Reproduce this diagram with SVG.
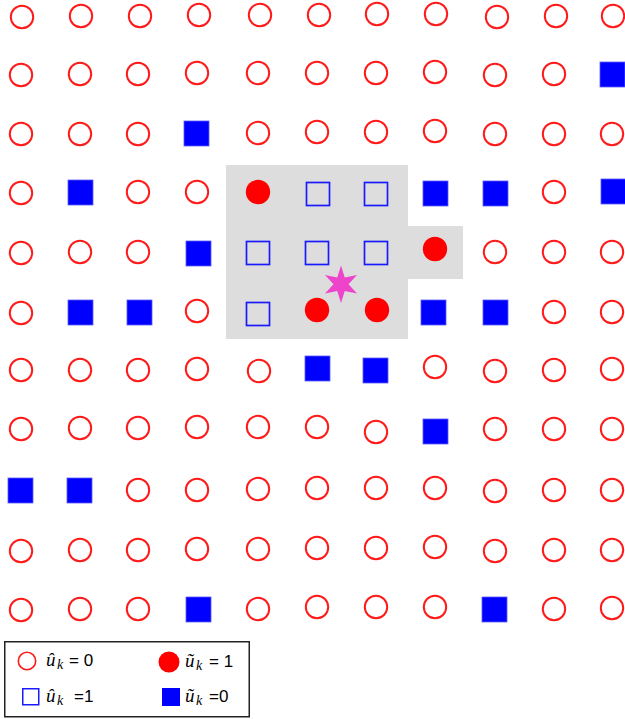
<svg xmlns="http://www.w3.org/2000/svg" width="625" height="719" viewBox="0 0 625 719">
<style>
.oc{fill:none;stroke:#ff1a1a;stroke-width:2}
.fc{fill:#ff0000;stroke:none}
.os{fill:none;stroke:#1a1aff;stroke-width:1.7}
.fs{fill:#0000ff;stroke:#5a5aff;stroke-width:0.8}
.lt{font-family:"Liberation Sans",Arial,sans-serif;font-size:17px;fill:#000}
.lu{font-family:"Liberation Serif","DejaVu Serif",serif;font-style:italic;font-size:19px}
.lk{font-family:"Liberation Serif","DejaVu Serif",serif;font-style:italic;font-size:14px}
</style>
<rect width="625" height="719" fill="#fff"/>
<path id="region" d="M226,165 H408 V226 H463 V279 H408 V339 H226 Z" fill="#dddddd"/>
<g id="nodes">
<!-- row 0 -->
<g id="n0-0"><circle class="oc" cx="22" cy="17" r="11.2"/></g>
<g id="n0-1"><circle class="oc" cx="81" cy="16" r="11.2"/></g>
<g id="n0-2"><circle class="oc" cx="140" cy="16" r="11.2"/></g>
<g id="n0-3"><circle class="oc" cx="199" cy="15" r="11.2"/></g>
<g id="n0-4"><circle class="oc" cx="260" cy="15" r="11.2"/></g>
<g id="n0-5"><circle class="oc" cx="319" cy="15" r="11.2"/></g>
<g id="n0-6"><circle class="oc" cx="377" cy="14" r="11.2"/></g>
<g id="n0-7"><circle class="oc" cx="436" cy="14" r="11.2"/></g>
<g id="n0-8"><circle class="oc" cx="497" cy="17" r="11.2"/></g>
<g id="n0-9"><circle class="oc" cx="556" cy="16" r="11.2"/></g>
<g id="n0-10"><circle class="oc" cx="613" cy="16" r="11.2"/></g>
<!-- row 1 -->
<g id="n1-0"><circle class="oc" cx="21" cy="75" r="11.2"/></g>
<g id="n1-1"><circle class="oc" cx="80" cy="74" r="11.2"/></g>
<g id="n1-2"><circle class="oc" cx="138" cy="74" r="11.2"/></g>
<g id="n1-3"><circle class="oc" cx="197" cy="73" r="11.2"/></g>
<g id="n1-4"><circle class="oc" cx="258" cy="73" r="11.2"/></g>
<g id="n1-5"><circle class="oc" cx="317" cy="73" r="11.2"/></g>
<g id="n1-6"><circle class="oc" cx="376" cy="73" r="11.2"/></g>
<g id="n1-7"><circle class="oc" cx="435" cy="72" r="11.2"/></g>
<g id="n1-8"><circle class="oc" cx="495" cy="75" r="11.2"/></g>
<g id="n1-9"><circle class="oc" cx="554" cy="74" r="11.2"/></g>
<g id="n1-10"><rect class="fs" x="600" y="62" width="25" height="25"/></g>
<!-- row 2 -->
<g id="n2-0"><circle class="oc" cx="21" cy="134" r="11.2"/></g>
<g id="n2-1"><circle class="oc" cx="80" cy="134" r="11.2"/></g>
<g id="n2-2"><circle class="oc" cx="138" cy="134" r="11.2"/></g>
<g id="n2-3"><rect class="fs" x="184" y="121" width="25" height="25"/></g>
<g id="n2-4"><circle class="oc" cx="258" cy="133" r="11.2"/></g>
<g id="n2-5"><circle class="oc" cx="317" cy="132" r="11.2"/></g>
<g id="n2-6"><circle class="oc" cx="376" cy="132" r="11.2"/></g>
<g id="n2-7"><circle class="oc" cx="435" cy="131" r="11.2"/></g>
<g id="n2-8"><circle class="oc" cx="495" cy="134" r="11.2"/></g>
<g id="n2-9"><circle class="oc" cx="554" cy="134" r="11.2"/></g>
<g id="n2-10"><circle class="oc" cx="612" cy="134" r="11.2"/></g>
<!-- row 3 -->
<g id="n3-0"><circle class="oc" cx="21" cy="193" r="11.2"/></g>
<g id="n3-1"><rect class="fs" x="68" y="180" width="25" height="25"/></g>
<g id="n3-2"><circle class="oc" cx="138" cy="192" r="11.2"/></g>
<g id="n3-3"><circle class="oc" cx="197" cy="192" r="11.2"/></g>
<g id="n3-4"><circle class="fc" cx="258" cy="192" r="12.2"/></g>
<g id="n3-5"><rect class="os" x="306.5" y="182.5" width="23" height="23"/></g>
<g id="n3-6"><rect class="os" x="364.5" y="182.5" width="23" height="23"/></g>
<g id="n3-7"><rect class="fs" x="423" y="181" width="25" height="25"/></g>
<g id="n3-8"><rect class="fs" x="483" y="181" width="25" height="25"/></g>
<g id="n3-9"><circle class="oc" cx="554" cy="192" r="11.2"/></g>
<g id="n3-10"><rect class="fs" x="601" y="179" width="25" height="25"/></g>
<!-- row 4 -->
<g id="n4-0"><circle class="oc" cx="21" cy="253" r="11.2"/></g>
<g id="n4-1"><circle class="oc" cx="80" cy="252" r="11.2"/></g>
<g id="n4-2"><circle class="oc" cx="138" cy="252" r="11.2"/></g>
<g id="n4-3"><rect class="fs" x="186" y="241" width="25" height="25"/></g>
<g id="n4-4"><rect class="os" x="246.5" y="241.5" width="23" height="23"/></g>
<g id="n4-5"><rect class="os" x="305.5" y="241.5" width="23" height="23"/></g>
<g id="n4-6"><rect class="os" x="364.5" y="241.5" width="23" height="23"/></g>
<g id="n4-7"><circle class="fc" cx="435" cy="249" r="12.2"/></g>
<g id="n4-8"><circle class="oc" cx="495" cy="252" r="11.2"/></g>
<g id="n4-9"><circle class="oc" cx="554" cy="252" r="11.2"/></g>
<g id="n4-10"><circle class="oc" cx="612" cy="252" r="11.2"/></g>
<!-- row 5 -->
<g id="n5-0"><circle class="oc" cx="21" cy="313" r="11.2"/></g>
<g id="n5-1"><rect class="fs" x="68" y="300" width="25" height="25"/></g>
<g id="n5-2"><rect class="fs" x="127" y="300" width="25" height="25"/></g>
<g id="n5-3"><circle class="oc" cx="197" cy="311" r="11.2"/></g>
<g id="n5-4"><rect class="os" x="246.5" y="302.5" width="23" height="23"/></g>
<g id="n5-5"><circle class="fc" cx="317" cy="310" r="12.2"/></g>
<g id="n5-6"><circle class="fc" cx="377" cy="310" r="12.2"/></g>
<g id="n5-7"><rect class="fs" x="421" y="300" width="25" height="25"/></g>
<g id="n5-8"><rect class="fs" x="483" y="300" width="25" height="25"/></g>
<g id="n5-9"><circle class="oc" cx="554" cy="312" r="11.2"/></g>
<g id="n5-10"><circle class="oc" cx="612" cy="312" r="11.2"/></g>
<!-- row 6 -->
<g id="n6-0"><circle class="oc" cx="21" cy="370" r="11.2"/></g>
<g id="n6-1"><circle class="oc" cx="80" cy="370" r="11.2"/></g>
<g id="n6-2"><circle class="oc" cx="138" cy="370" r="11.2"/></g>
<g id="n6-3"><circle class="oc" cx="197" cy="369" r="11.2"/></g>
<g id="n6-4"><circle class="oc" cx="259" cy="371" r="11.2"/></g>
<g id="n6-5"><rect class="fs" x="305" y="356" width="25" height="25"/></g>
<g id="n6-6"><rect class="fs" x="363" y="358" width="25" height="25"/></g>
<g id="n6-7"><circle class="oc" cx="435" cy="367" r="11.2"/></g>
<g id="n6-8"><circle class="oc" cx="495" cy="371" r="11.2"/></g>
<g id="n6-9"><circle class="oc" cx="554" cy="370" r="11.2"/></g>
<g id="n6-10"><circle class="oc" cx="612" cy="369" r="11.2"/></g>
<!-- row 7 -->
<g id="n7-0"><circle class="oc" cx="21" cy="429" r="11.2"/></g>
<g id="n7-1"><circle class="oc" cx="80" cy="428" r="11.2"/></g>
<g id="n7-2"><circle class="oc" cx="138" cy="428" r="11.2"/></g>
<g id="n7-3"><circle class="oc" cx="197" cy="427" r="11.2"/></g>
<g id="n7-4"><circle class="oc" cx="258" cy="427" r="11.2"/></g>
<g id="n7-5"><circle class="oc" cx="317" cy="427" r="11.2"/></g>
<g id="n7-6"><circle class="oc" cx="376" cy="432" r="11.2"/></g>
<g id="n7-7"><rect class="fs" x="423" y="419" width="25" height="25"/></g>
<g id="n7-8"><circle class="oc" cx="495" cy="429" r="11.2"/></g>
<g id="n7-9"><circle class="oc" cx="554" cy="429" r="11.2"/></g>
<g id="n7-10"><circle class="oc" cx="612" cy="429" r="11.2"/></g>
<!-- row 8 -->
<g id="n8-0"><rect class="fs" x="8" y="478" width="25" height="25"/></g>
<g id="n8-1"><rect class="fs" x="67" y="478" width="25" height="25"/></g>
<g id="n8-2"><circle class="oc" cx="138" cy="490" r="11.2"/></g>
<g id="n8-3"><circle class="oc" cx="197" cy="490" r="11.2"/></g>
<g id="n8-4"><circle class="oc" cx="258" cy="489" r="11.2"/></g>
<g id="n8-5"><circle class="oc" cx="317" cy="488" r="11.2"/></g>
<g id="n8-6"><circle class="oc" cx="376" cy="488" r="11.2"/></g>
<g id="n8-7"><circle class="oc" cx="435" cy="488" r="11.2"/></g>
<g id="n8-8"><circle class="oc" cx="495" cy="491" r="11.2"/></g>
<g id="n8-9"><circle class="oc" cx="554" cy="490" r="11.2"/></g>
<g id="n8-10"><circle class="oc" cx="612" cy="490" r="11.2"/></g>
<!-- row 9 -->
<g id="n9-0"><circle class="oc" cx="21" cy="551" r="11.2"/></g>
<g id="n9-1"><circle class="oc" cx="80" cy="550" r="11.2"/></g>
<g id="n9-2"><circle class="oc" cx="138" cy="550" r="11.2"/></g>
<g id="n9-3"><circle class="oc" cx="197" cy="549" r="11.2"/></g>
<g id="n9-4"><circle class="oc" cx="258" cy="549" r="11.2"/></g>
<g id="n9-5"><circle class="oc" cx="317" cy="548" r="11.2"/></g>
<g id="n9-6"><circle class="oc" cx="376" cy="548" r="11.2"/></g>
<g id="n9-7"><circle class="oc" cx="435" cy="547" r="11.2"/></g>
<g id="n9-8"><circle class="oc" cx="495" cy="551" r="11.2"/></g>
<g id="n9-9"><circle class="oc" cx="554" cy="550" r="11.2"/></g>
<g id="n9-10"><circle class="oc" cx="612" cy="550" r="11.2"/></g>
<!-- row 10 -->
<g id="n10-0"><circle class="oc" cx="21" cy="610" r="11.2"/></g>
<g id="n10-1"><circle class="oc" cx="80" cy="609" r="11.2"/></g>
<g id="n10-2"><circle class="oc" cx="138" cy="609" r="11.2"/></g>
<g id="n10-3"><rect class="fs" x="186" y="597" width="25" height="25"/></g>
<g id="n10-4"><circle class="oc" cx="258" cy="609" r="11.2"/></g>
<g id="n10-5"><circle class="oc" cx="317" cy="607" r="11.2"/></g>
<g id="n10-6"><circle class="oc" cx="376" cy="607" r="11.2"/></g>
<g id="n10-7"><circle class="oc" cx="435" cy="607" r="11.2"/></g>
<g id="n10-8"><rect class="fs" x="482" y="597" width="25" height="25"/></g>
<g id="n10-9"><circle class="oc" cx="554" cy="609" r="11.2"/></g>
<g id="n10-10"><circle class="oc" cx="612" cy="608" r="11.2"/></g>
</g>
<g id="star">
<polygon fill="#ee44cc" points="341,265.5 344.75,277.5 357,275 348.5,284.3 357,293.5 344.75,291 341,303 337.25,291 325,293.5 333.5,284.3 325,275 337.25,277.5"/>
</g>
<g id="legend">
<rect x="4.75" y="641.75" width="244.5" height="75" fill="#fff" stroke="#222" stroke-width="1.5"/>
<circle cx="27" cy="661" r="8.7" fill="none" stroke="#ff1a1a" stroke-width="1.6"/>
<text class="lt" y="666"><tspan class="lu" x="46">û</tspan><tspan class="lk" x="57" dy="3">k</tspan><tspan x="69" dy="-3">= 0</tspan></text>
<circle cx="169" cy="662" r="10.5" fill="#ff0000"/>
<text class="lt" y="667"><tspan class="lu" x="185">ũ</tspan><tspan class="lk" x="196" dy="3">k</tspan><tspan x="209" dy="-3">= 1</tspan></text>
<rect x="22.75" y="688.75" width="16" height="16" fill="none" stroke="#1a1aff" stroke-width="1.5"/>
<text class="lt" y="702"><tspan class="lu" x="46">û</tspan><tspan class="lk" x="57" dy="3">k</tspan><tspan x="74" dy="-3">=1</tspan></text>
<rect x="162" y="688" width="18" height="18" fill="#0000ff"/>
<text class="lt" y="702"><tspan class="lu" x="185">ũ</tspan><tspan class="lk" x="196" dy="3">k</tspan><tspan x="209" dy="-3">=0</tspan></text>
</g>
</svg>
